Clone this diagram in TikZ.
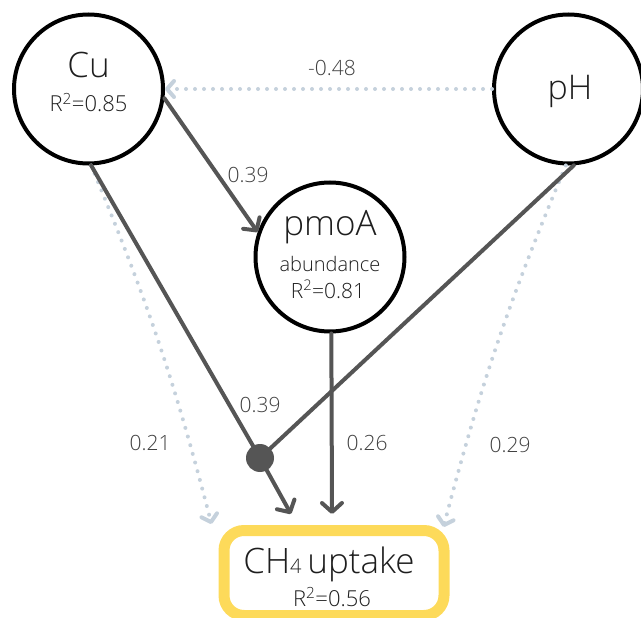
\documentclass[tikz,border=0pt]{standalone}
\usepackage{fontspec}
\setmainfont{Open Sans}[UprightFont=* Light]
\usetikzlibrary{arrows.meta,calc}
\definecolor{edgegray}{HTML}{555555}
\definecolor{dotblue}{HTML}{C5D1DC}
\definecolor{boxyellow}{HTML}{FDDA5A}
\definecolor{txt}{HTML}{1E1E1E}
\definecolor{lbl}{HTML}{404040}
\newcommand{\fs}[1]{\fontsize{#1}{#1}\selectfont}
\begin{document}
\begin{tikzpicture}[x=1pt,y=-1pt,
  var/.style={circle,draw=black,line width=4pt,minimum size=149pt,inner sep=0pt},
  outcome/.style={rectangle,rounded corners=20pt,draw=boxyellow,line width=11pt,
    minimum width=220pt,minimum height=85pt,inner sep=0pt},
  junction/.style={circle,fill=edgegray,minimum size=28pt,inner sep=0pt},
  solidlink/.style={draw=edgegray,line width=4pt,line cap=round,line join=round},
  solidarrow/.style={solidlink,-{Straight Barb[length=9pt,width=20pt,round]}},
  dotlink/.style={draw=dotblue,line width=4pt,line cap=round,dash pattern=on 0pt off 9pt,
    -{Straight Barb[length=7pt,width=16pt,round]}},
  coef/.style={text=lbl,font=\fs{21}},
  vartext/.style={text=txt,anchor=base},
]
\useasboundingbox (0,0) rectangle (641,618);

% variables
\node[var] (cu) at (88.5,89) {};
\node[var] (ph) at (568.5,89) {};
\node[var] (pmoa) at (330,257) {};
\node[outcome] (ch4) at (334,573) {};
\node[junction] (jn) at (260,458) {};

% texts inside the variables
\node[vartext,font=\fs{35}] (cuname) at (88.5,78) {Cu};
\node[vartext,font=\fs{22}] (cur2) at (88.5,112) {R\textsuperscript{2}=0.85};
\node[vartext,font=\fs{34}] (phname) at (570,100) {pH};
\node[vartext,font=\fs{35}] (pmoaname) at (330,236) {pmoA};
\node[vartext,font=\fs{20}] (pmoaabund) at (330,271) {abundance};
\node[vartext,font=\fs{21}] (pmoar2) at (328,298) {R\textsuperscript{2}=0.81};
\node[vartext,font=\fs{35}] (ch4name) at (329,573) {CH{\fs{20}4}\,uptake};
\node[vartext,font=\fs{22}] (ch4r2) at (332,606) {R\textsuperscript{2}=0.56};

% dotted paths
\draw[dotlink] (ph.west) -- (cu.east);
\draw[dotlink] (cu.-88) to[bend left=4] ($(ch4.north west)+(-7,-1)$);
\draw[dotlink] (ph.-92) to[bend right=4] ($(ch4.north east)+(-6,2)$);

% solid paths
\draw[solidarrow] (cu.-7) -- (pmoa.161);
\draw[solidlink] (cu.-88) -- (jn.center);
\draw[solidarrow] (jn.center) -- ($(ch4.north)+(-43,-11)$);
\draw[solidlink] (ph.-86) -- (jn.center);
\draw[solidarrow] (pmoa.-89) -- ($(ch4.north)+(-2,-11)$);

% path coefficients
\node[coef] (c1) at (332,68) {-0.48};
\node[coef] (c2) at (248,175) {0.39};
\node[coef] (c3) at (260,405) {0.39};
\node[coef] (c4) at (150,443) {0.21};
\node[coef] (c5) at (367,443) {0.26};
\node[coef] (c6) at (510,445) {0.29};
\end{tikzpicture}
\end{document}
